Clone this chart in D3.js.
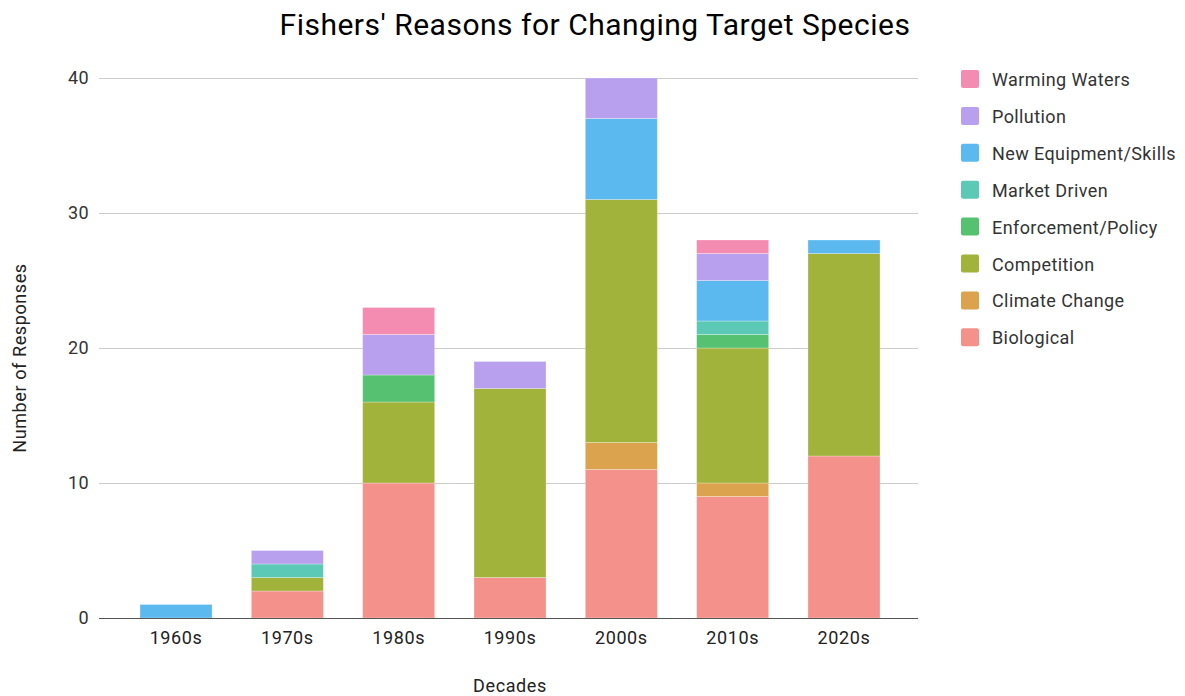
<!DOCTYPE html>
<html>
<head>
<meta charset="utf-8">
<script src="https://cdn.jsdelivr.net/npm/d3@7"></script>
<style>
  html, body { margin: 0; padding: 0; background: #fff; }
  svg { display: block; font-family: Roboto, "Noto Sans", Arial, sans-serif; }
</style>
</head>
<body>
<svg id="chart" width="1185" height="696"></svg>
<script>
// Decades surveyed
const decades = ["1960s", "1970s", "1980s", "1990s", "2000s", "2010s", "2020s"];

// Reasons, stacked bottom to top
const reasons = ["Biological", "Climate Change", "Competition", "Enforcement/Policy",
                 "Market Driven", "New Equipment/Skills", "Pollution", "Warming Waters"];

// Responses per reason, one value per decade
const biological   = [0, 2, 10, 3, 11, 9, 12];
const climate      = [0, 0, 0, 0, 2, 1, 0];
const competition  = [0, 1, 6, 14, 18, 10, 15];
const enforcement  = [0, 0, 2, 0, 0, 1, 0];
const market       = [0, 1, 0, 0, 0, 1, 0];
const equipment    = [1, 0, 0, 0, 6, 3, 1];
const pollution    = [0, 1, 3, 2, 3, 2, 0];
const warming      = [0, 0, 2, 0, 0, 1, 0];

const yTicks = [0, 10, 20, 30, 40];

const colors = ["#f4918a", "#dca34f", "#a2b33c", "#57c172", "#5cc8b6", "#5cb9f0", "#b8a0ee", "#f48bb0"];

const seriesValues = [biological, climate, competition, enforcement, market, equipment, pollution, warming];
const rows = decades.map((d, i) => {
  const r = { decade: d };
  reasons.forEach((k, j) => r[k] = seriesValues[j][i]);
  return r;
});

const svg = d3.select("#chart");
const plot = { left: 99, right: 918, top: 78, bottom: 618 };

const x = d3.scaleBand().domain(decades).range([140, 880]).paddingInner(0.353).paddingOuter(0);
const y = d3.scaleLinear().domain([0, 40]).range([plot.bottom, plot.top]);
const color = d3.scaleOrdinal().domain(reasons).range(colors);

// Title
svg.append("text")
  .attr("x", 595).attr("y", 35)
  .attr("text-anchor", "middle")
  .attr("font-size", 30)
  .attr("letter-spacing", 0.5)
  .attr("fill", "#000")
  .text("Fishers' Reasons for Changing Target Species");

// Horizontal gridlines and value labels
const yAxis = svg.append("g").attr("transform", `translate(${plot.left},0)`)
  .call(d3.axisLeft(y).tickValues(yTicks).tickSize(-(plot.right - plot.left)).tickPadding(10).tickFormat(d3.format("d")));
yAxis.select(".domain").remove();
yAxis.selectAll(".tick line").attr("stroke", "#cccccc").attr("stroke-width", 1);
yAxis.selectAll(".tick text").attr("font-size", 18).attr("letter-spacing", 0.4)
  .attr("fill", "#333").attr("font-family", "Roboto, sans-serif");

// Stacked bars
const stack = d3.stack().keys(reasons)(rows);
const layers = svg.append("g").selectAll("g").data(stack).join("g")
  .attr("fill", d => color(d.key));
layers.selectAll("rect")
  .data(d => d.filter(s => s[1] - s[0] > 0))
  .join("rect")
  .attr("x", d => x(d.data.decade))
  .attr("width", x.bandwidth())
  .attr("y", d => y(d[1]))
  .attr("height", d => y(d[0]) - y(d[1]))
  .attr("stroke", "rgba(255,255,255,0.35)")
  .attr("stroke-width", 0.8);

// Baseline and decade labels
const xAxis = svg.append("g").attr("transform", `translate(0,${plot.bottom})`)
  .call(d3.axisBottom(x).tickSize(0).tickPadding(13));
xAxis.select(".domain").remove();
xAxis.selectAll(".tick text").attr("font-size", 18).attr("letter-spacing", 0.6)
  .attr("fill", "#222").attr("font-family", "Roboto, sans-serif");
svg.append("line")
  .attr("x1", plot.left).attr("x2", plot.right)
  .attr("y1", y(0) + 0.5).attr("y2", y(0) + 0.5)
  .attr("stroke", "#555").attr("stroke-width", 1.2);

// Axis titles
svg.append("text")
  .attr("x", 510).attr("y", 692)
  .attr("text-anchor", "middle")
  .attr("font-size", 18).attr("letter-spacing", 0.6).attr("fill", "#222")
  .text("Decades");
svg.append("text")
  .attr("transform", "translate(26,358) rotate(-90)")
  .attr("text-anchor", "middle")
  .attr("font-size", 18).attr("letter-spacing", 0.6).attr("fill", "#222")
  .text("Number of Responses");

// Legend, top entry is the top of the stack
const legendItems = reasons.slice().reverse();
const legend = svg.append("g").selectAll("g").data(legendItems).join("g")
  .attr("transform", (d, i) => `translate(961,${70 + i * 36.9})`);
legend.append("rect")
  .attr("x", 0).attr("y", 0).attr("width", 18).attr("height", 18).attr("rx", 2)
  .attr("fill", d => color(d));
legend.append("text")
  .attr("x", 31).attr("y", 16)
  .attr("font-size", 18).attr("letter-spacing", 0.4).attr("fill", "#333")
  .text(d => d);
</script>
</body>
</html>
